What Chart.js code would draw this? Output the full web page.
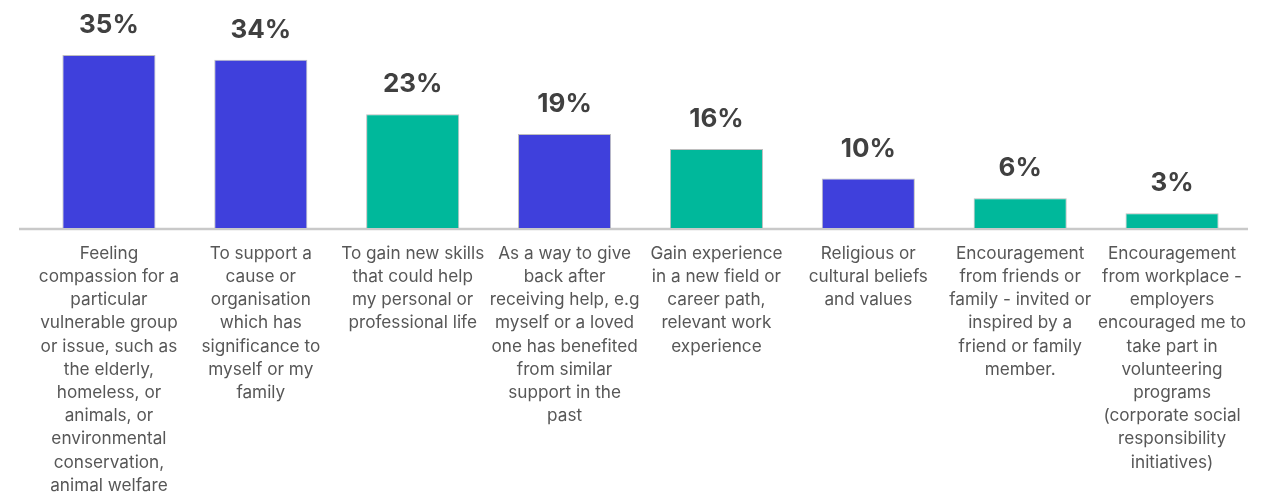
<!DOCTYPE html>
<html lang="en">
<head>
  <meta charset="UTF-8">
  <title>Reasons for volunteering</title>
  <script src="https://cdn.jsdelivr.net/npm/chart.js"></script>
  <style>
    body { margin: 0; background: #fff; overflow: hidden; }
    .wrap { position: relative; width: 1269px; height: 495px; }
  </style>
</head>
<body>
<div class="wrap"><canvas id="reasons"></canvas></div>

<script>
  // reasons, one array of lines per bar
  const categories = [
    ['Feeling', 'compassion for a', 'particular', 'vulnerable group', 'or issue, such as', 'the elderly,', 'homeless, or', 'animals, or', 'environmental', 'conservation,', 'animal welfare'],
    ['To support a', 'cause or', 'organisation', 'which has', 'significance to', 'myself or my', 'family'],
    ['To gain new skills', 'that could help', 'my personal or', 'professional life'],
    ['As a way to give', 'back after', 'receiving help, e.g', 'myself or a loved', 'one has benefited', 'from similar', 'support in the', 'past'],
    ['Gain experience', 'in a new field or', 'career path,', 'relevant work', 'experience'],
    ['Religious or', 'cultural beliefs', 'and values'],
    ['Encouragement', 'from friends or', 'family - invited or', 'inspired by a', 'friend or family', 'member.'],
    ['Encouragement', 'from workplace -', 'employers', 'encouraged me to', 'take part in', 'volunteering', 'programs', '(corporate social', 'responsibility', 'initiatives)']
  ];
  const values = [35, 34, 23, 19, 16, 10, 6, 3];

  const BLUE = '#3f40dc';
  const TEAL = '#00b89b';
  const barColors = [BLUE, BLUE, TEAL, BLUE, TEAL, BLUE, TEAL, TEAL];

  // grey base line under the bars
  const baseLine = {
    id: 'baseLine',
    beforeDatasetsDraw(chart) {
      const { ctx, chartArea } = chart;
      ctx.save();
      ctx.strokeStyle = '#c9c9c9';
      ctx.lineWidth = 2.5;
      ctx.beginPath();
      ctx.moveTo(19, chartArea.bottom + 1);
      ctx.lineTo(chartArea.right, chartArea.bottom + 1);
      ctx.stroke();
      ctx.restore();
    }
  };

  // percentage above each bar
  const valueLabels = {
    id: 'valueLabels',
    afterDatasetsDraw(chart) {
      const { ctx } = chart;
      const meta = chart.getDatasetMeta(0);
      ctx.save();
      ctx.font = '700 26px Inter, "Liberation Sans", sans-serif';
      ctx.fillStyle = '#404040';
      ctx.textAlign = 'center';
      ctx.textBaseline = 'alphabetic';
      meta.data.forEach((bar, i) => {
        ctx.fillText(values[i] + '%', bar.x, bar.y - 22);
      });
      ctx.restore();
    }
  };

  new Chart(document.getElementById('reasons'), {
    type: 'bar',
    data: {
      labels: categories,
      datasets: [{
        data: values,
        backgroundColor: barColors,
        borderColor: 'rgba(110,110,110,0.45)',
        borderWidth: 1,
        categoryPercentage: 1,
        barPercentage: 0.613
      }]
    },
    options: {
      responsive: true,
      maintainAspectRatio: false,
      animation: false,
      layout: { padding: { left: 33, right: 21, top: 3, bottom: 0 } },
      plugins: {
        legend: { display: false },
        tooltip: { enabled: false }
      },
      scales: {
        x: {
          grid: { display: false },
          border: { display: false },
          ticks: {
            color: '#575757',
            font: { family: 'Inter, "Liberation Sans", sans-serif', size: 17.2, lineHeight: 1.349 },
            padding: 6,
            maxRotation: 0,
            minRotation: 0,
            autoSkip: false
          },
          // tall wrapped labels: keep the axis box at a fixed height
          afterFit(axis) { axis.height = 267; }
        },
        y: {
          display: false,
          min: 0,
          max: 45.5
        }
      }
    },
    plugins: [baseLine, valueLabels]
  });
</script>
</body>
</html>
